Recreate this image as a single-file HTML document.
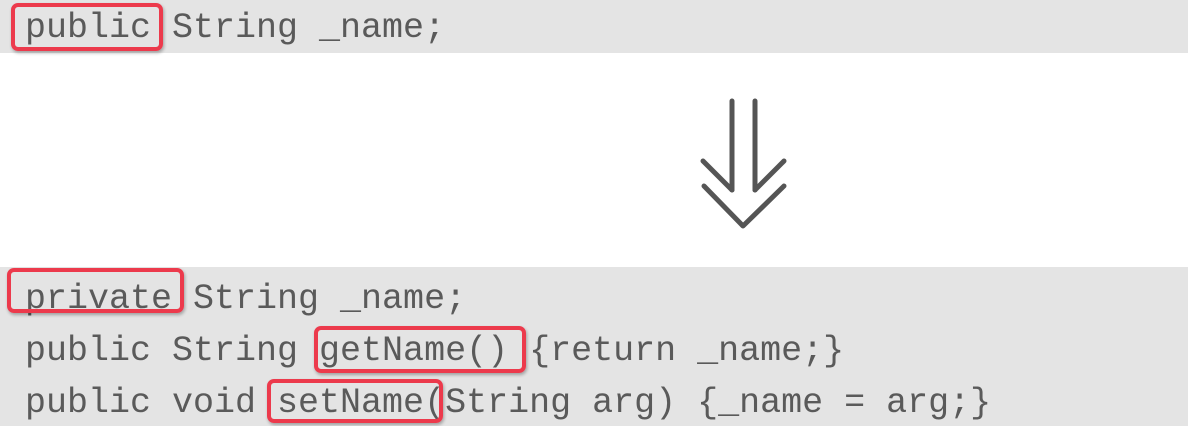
<!DOCTYPE html>
<html><head><meta charset="utf-8"><style>
body{margin:0;width:1188px;height:426px;background:#fff;position:relative;overflow:hidden;font-family:"Nimbus Mono PS","Nimbus Mono L","Courier New","Liberation Mono",monospace;}
.band{position:absolute;left:0;width:1188px;background:#e4e4e4;}
.t{position:absolute;left:25px;font-size:35px;color:#5a5a5a;white-space:pre;line-height:1;}
.b{position:absolute;border:4px solid #ec3a4c;border-radius:7px;box-sizing:border-box;box-shadow:1px 2px 3px rgba(0,0,0,.3);}
</style></head><body>
<div class="band" style="top:0;height:53px"></div>
<div class="band" style="top:267px;height:159px"></div>
<div class="t" style="top:11px">public String _name;</div>
<div class="t" style="top:282px">private String _name;</div>
<div class="t" style="top:334px">public String getName() {return _name;}</div>
<div class="t" style="top:386px">public void setName(String arg) {_name = arg;}</div>
<div class="b" style="left:11px;top:3px;width:152px;height:48px"></div>
<div class="b" style="left:7px;top:268px;width:177px;height:45px"></div>
<div class="b" style="left:314px;top:326px;width:212px;height:47px"></div>
<div class="b" style="left:267px;top:379px;width:176px;height:44px"></div>
<svg style="position:absolute;left:0;top:0" width="1188" height="426">
<g stroke="#555" stroke-width="5" fill="none" stroke-linecap="round" stroke-linejoin="round">
<line x1="732" y1="101" x2="732" y2="190"/>
<line x1="755" y1="101" x2="755" y2="190"/>
<path d="M703 161 L732 190"/>
<path d="M784 161 L755 190"/>
<path d="M704 186 L743 226 L784 186"/>
</g></svg>
</body></html>
